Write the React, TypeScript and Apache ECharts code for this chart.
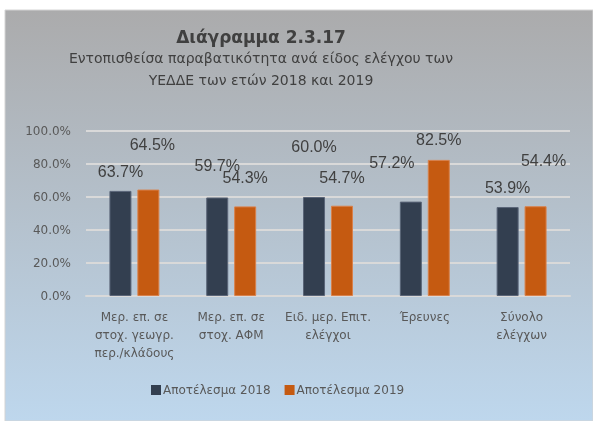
import React, { useEffect, useRef } from "react";
import * as echarts from "echarts";

const categories = [
  "Μερ. επ. σε\nστοχ. γεωγρ.\nπερ./κλάδους",
  "Μερ. επ. σε\nστοχ. ΑΦΜ",
  "Ειδ. μερ. Επιτ.\nελέγχοι",
  "Έρευνες",
  "Σύνολο\nελέγχων",
];
const values2018 = [63.7, 59.7, 60.0, 57.2, 53.9];
const values2019 = [64.5, 54.3, 54.7, 82.5, 54.4];
const seriesNames = ["Αποτέλεσμα 2018", "Αποτέλεσμα 2019"];
const titleLines = [
  "Διάγραμμα 2.3.17",
  "Εντοπισθείσα παραβατικότητα ανά είδος ελέγχου των",
  "ΥΕΔΔΕ των ετών 2018 και 2019",
];

// label placement tweaks (style only)
const offs2018 = [[0, -11], [0, -24], [0, -43], [-19, -31], [0, -12]];
const offs2019 = [[4, -37], [0, -21], [0, -20], [0, -12], [8, -38]];

const FONT = "'DejaVu Sans', sans-serif";

export default function App() {
  const ref = useRef<HTMLDivElement>(null);
  useEffect(() => {
    const chart = echarts.init(ref.current!, null, { renderer: "svg" });
    const mk = (vals: number[], offs: number[][]) =>
      vals.map((v, i) => ({ value: v, label: { offset: offs[i] } }));
    const labelCfg = {
      show: true,
      position: "top",
      distance: 0,
      formatter: (p: any) => p.value.toFixed(1) + "%",
      fontFamily: "'Liberation Sans', Arial, sans-serif",
      fontSize: 16,
      color: "#404040",
    };
    chart.setOption({
      animation: false,
      graphic: [
        {
          type: "rect",
          shape: { x: 5, y: 10, width: 588, height: 411 },
          style: {
            fill: new echarts.graphic.LinearGradient(0, 0, 0, 1, [
              { offset: 0, color: "#ababac" },
              { offset: 1, color: "#bed7ed" },
            ]),
            stroke: "#d4d4d4",
            lineWidth: 1,
          },
          z: -10,
        },
        {
          type: "text",
          x: 261,
          y: 37,
          style: {
            text: titleLines[0],
            font: `bold 17px ${FONT}`,
            fill: "#404040",
            textAlign: "center",
            textVerticalAlign: "middle",
          },
        },
        {
          type: "text",
          x: 261,
          y: 58,
          style: {
            text: titleLines[1],
            font: `14px ${FONT}`,
            fill: "#404040",
            textAlign: "center",
            textVerticalAlign: "middle",
          },
        },
        {
          type: "text",
          x: 261,
          y: 80,
          style: {
            text: titleLines[2],
            font: `14px ${FONT}`,
            fill: "#404040",
            textAlign: "center",
            textVerticalAlign: "middle",
          },
        },
      ],
      legend: {
        bottom: 20,
        left: 146,
        itemWidth: 10,
        itemHeight: 10,
        itemGap: 14,
        icon: "rect",
        itemStyle: { borderWidth: 0 },
        textStyle: { fontFamily: FONT, fontSize: 12, color: "#595959", padding: [0, 0, 0, -3] },
        data: seriesNames,
      },
      grid: { left: 86, right: 23, top: 131, bottom: 125 },
      xAxis: {
        type: "category",
        data: categories,
        axisLine: { lineStyle: { color: "#d9d9d9", width: 2 } },
        axisTick: { show: false },
        axisLabel: {
          interval: 0,
          fontFamily: FONT,
          fontSize: 12,
          color: "#595959",
          lineHeight: 18,
          margin: 12,
        },
      },
      yAxis: {
        type: "value",
        min: 0,
        max: 100,
        interval: 20,
        axisLabel: {
          formatter: (v: number) => v.toFixed(1) + "%",
          fontFamily: FONT,
          fontSize: 12,
          color: "#595959",
          margin: 15,
        },
        splitLine: { lineStyle: { color: "#d9d9d9", width: 2 } },
        axisLine: { show: false },
        axisTick: { show: false },
      },
      series: [
        {
          name: seriesNames[0],
          type: "bar",
          data: mk(values2018, offs2018),
          barWidth: 22,
          barGap: "27%",
          itemStyle: { color: "#333f50", borderColor: "#5a6578", borderWidth: 1 },
          label: labelCfg,
        },
        {
          name: seriesNames[1],
          type: "bar",
          data: mk(values2019, offs2019),
          barWidth: 22,
          itemStyle: { color: "#c55a11", borderColor: "#d9804a", borderWidth: 1 },
          label: labelCfg,
        },
      ],
    });
    return () => chart.dispose();
  }, []);
  return (
    <div
      ref={ref}
      style={{ position: "fixed", left: 0, top: 0, width: 593, height: 421 }}
    />
  );
}
